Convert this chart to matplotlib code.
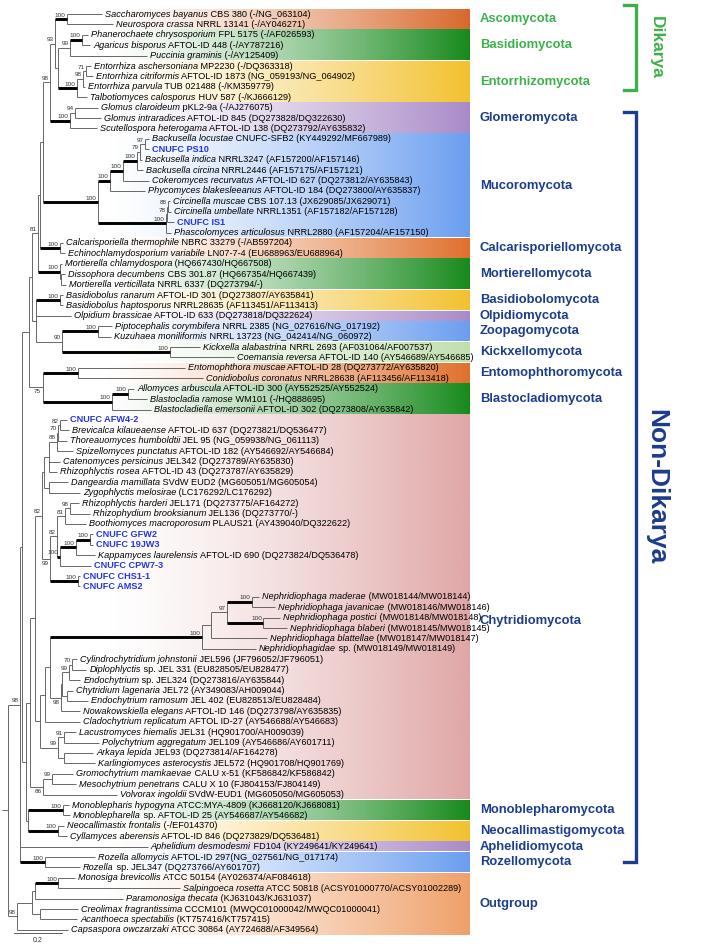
import matplotlib
matplotlib.use("Agg")
import matplotlib.pyplot as plt
import numpy as np
from matplotlib.colors import to_rgb

plt.rcParams['font.family'] = ['Liberation Sans', 'DejaVu Sans']

# ---- tree, branch lengths in substitutions/site; leaves are row numbers,
# internal labels are bootstrap values, "*" = bold branch, "_" = value drawn below
dikarya = ("((0:0.146,1:0.192)100*:0.05,"
           "(((2:0.025,3:0.033)100*:0.05,4:0.321)99:0.05,"
           "(((5:0.021,6:0.029)71:0.013,7:0.008)98:0.025,8:0.042)100*:0.079):0.013)93:0.021")
glomero = "((9:0.096,10:0.108)94:0.021,11:0.113)100*:0.083"
mucoro = ("((((((12:0.017,13:0.017)97:0.021,14:0.008)79:0.013,15:0.025)100*:0.058,16:0.108)100*:0.054,"
          "17:0.146)100*:0.05,(((18:0.008,19:0.013)88:0.004,20:0.029)78:0.004,21:0.021)100*:0.283)100*:0.229")
calcar = "(22:0.013,23:0.021)100*:0.083"
mortier = "(24:0.008,(25:0.017,26:0.021):0.004)100*:0.092"
zoopago = ("((27:0.013,28:0.013)100*:0.1,29:0.146,"
           "((30:0.058,31:0.054)100*:0.15,(32:0.125,33:0.267)100*:0.45)90:0.108):0.017")
blasto = "((34:0.446,35:0.521)100*:0.146,((36:0.025,37:0.079)100*:0.067,38:0.163)100*:0.288)75_:0.058"
upper = "(((((({0},{1})98:0.029,{2}):0.013,{3}):0.008,{4})81:0.025,{5}):0.013,{6}):0.029".format(
    dikarya, glomero, mucoro, calcar, mortier, zoopago, blasto)

spizello = "((((39:0.029,40:0.038)82:0.008,41:0.038)70:0.004,42:0.067)88:0.033,43:0.046,44:0.033):0.021"
rhizophyd = ("((((47:0.038,48:0.083)98:0.021,49:0.088)81:0.033,"
             "(((50:0.013,51:0.013)100*:0.058,52:0.079)100*:0.067,53:0.129)100*:0.013)82:0.029,"
             "(54:0.008,55:0.008)100*:0.117)99_:0.033")
nephrid = ("((((56:0.029,57:0.096)100*:0.104,(58:0.071,59:0.1)100*:0.15)97:0.067,60:0.233):0.038,"
           "61:0.225)100*:0.633")
chytridial = ("((((62:0.021,63:0.058)70:0.013,64:0.046)99:0.029,(65:0.025,66:0.088):0.021):0.004,"
              "67:0.079)98_:0.046")
polychyt = "((69:0.05,70:0.146)91:0.025,(71:0.121,72:0.129):0.025)99:0.075"
mesochyt = "((73:0.088,74:0.1)99:0.038,75:0.308)86_:0.054"
chytrid = ("(((({0},(45:0.079,46:0.129):0.021):0.008,{1})82:0.029,"
           "((({2},{3}):0.021,68:0.146):0.021,{4}):0.021):0.021,{5}):0.017").format(
    spizello, rhizophyd, nephrid, chytridial, polychyt, mesochyt)
mononeo = "((76:0.025,77:0.029)100*:0.146,(78:0.025,79:0.038)100*:0.125):0.008"
fungi = "((" + upper + ",(" + chytrid + "," + mononeo + "):0.017):0.008,80:0.533,(81:0.208,82:0.146)100*:0.104)98:0.05"
outgroup = "((((83:0.071,84:0.508)100*:0.096,85:0.367):0.013,(86:0.158,87:0.154):0.033):0.063,88:0.213)98:0.038"
newick = "(" + fungi + "," + outgroup + ");"

taxon_italic = [
    'Saccharomyces bayanus', 'Neurospora crassa', 'Phanerochaete chrysosporium', 'Agaricus bisporus', 'Puccinia graminis',
    'Entorrhiza aschersoniana', 'Entorrhiza citriformis', 'Entorrhiza parvula', 'Talbotiomyces calosporus',
    'Glomus claroideum', 'Glomus intraradices', 'Scutellospora heterogama',
    'Backusella locustae', '', 'Backusella indica', 'Backusella circina', 'Cokeromyces recurvatus', 'Phycomyces blakesleeanus',
    'Circinella muscae', 'Circinella umbellate', '', 'Phascolomyces articulosus',
    'Calcarisporiella thermophile', 'Echinochlamydosporium variabile',
    'Mortierella chlamydospora', 'Dissophora decumbens', 'Mortierella verticillata',
    'Basidiobolus ranarum', 'Basidiobolus haptosporus', 'Olpidium brassicae',
    'Piptocephalis corymbifera', 'Kuzuhaea moniliformis', 'Kickxella alabastrina', 'Coemansia reversa',
    'Entomophthora muscae', 'Conidiobolus coronatus',
    'Allomyces arbuscula', 'Blastocladia ramose', 'Blastocladiella emersonii',
    '', 'Brevicalca kilaueaense', 'Thoreauomyces humboldtii', 'Spizellomyces punctatus', 'Catenomyces persicinus', 'Rhizophlyctis rosea',
    'Dangeardia mamillata', 'Zygophlyctis melosirae', 'Rhizophlyctis harderi', 'Rhizophydium brooksianum', 'Boothiomyces macroporosum',
    '', '', 'Kappamyces laurelensis', '', '', '',
    'Nephridiophaga maderae', 'Nephridiophaga javanicae', 'Nephridiophaga postici', 'Nephridiophaga blaberi',
    'Nephridiophaga blattellae', 'Nephridiophagidae',
    'Cylindrochytridium johnstonii', 'Diplophlyctis', 'Endochytrium', 'Chytridium lagenaria', 'Endochytrium ramosum',
    'Nowakowskiella elegans', 'Cladochytrium replicatum',
    'Lacustromyces hiemalis', 'Polychytrium aggregatum', 'Arkaya lepida', 'Karlingiomyces asterocystis',
    'Gromochytrium mamkaevae', 'Mesochytrium penetrans', 'Volvorax ingoldii',
    'Monoblepharis hypogyna', 'Monoblepharella', 'Neocallimastix frontalis', 'Cyllamyces aberensis',
    'Aphelidium desmodesmi', 'Rozella allomycis', 'Rozella',
    'Monosiga brevicollis', 'Salpingoeca rosetta', 'Paramonosiga thecata', 'Creolimax fragrantissima',
    'Acanthoeca spectabilis', 'Capsaspora owczarzaki']

taxon_rest = [
    ' CBS 380 (-/NG_063104)', ' NRRL 13141 (-/AY046271)', ' FPL 5175 (-/AF026593)', ' AFTOL-ID 448 (-/AY787216)', ' (-/AY125409)',
    ' MP2230 (-/DQ363318)', ' AFTOL-ID 1873 (NG_059193/NG_064902)', ' TUB 021488 (-/KM359779)', ' HUV 587 (-/KJ666129)',
    ' pKL2-9a (-/AJ276075)', ' AFTOL-ID 845 (DQ273828/DQ322630)', ' AFTOL-ID 138 (DQ273792/AY635832)',
    ' CNUFC-SFB2 (KY449292/MF667989)', 'CNUFC PS10', ' NRRL3247 (AF157200/AF157146)', ' NRRL2446 (AF157175/AF157121)',
    ' AFTOL-ID 627 (DQ273812/AY635843)', ' AFTOL-ID 184 (DQ273800/AY635837)',
    ' CBS 107.13 (JX629085/JX629071)', ' NRRL1351 (AF157182/AF157128)', 'CNUFC IS1', ' NRRL2880 (AF157204/AF157150)',
    ' NBRC 33279 (-/AB597204)', ' LN07-7-4 (EU688963/EU688964)',
    ' (HQ667430/HQ667508)', ' CBS 301.87 (HQ667354/HQ667439)', ' NRRL 6337 (DQ273794/-)',
    ' AFTOL-ID 301 (DQ273807/AY635841)', ' NRRL28635 (AF113451/AF113413)', ' AFTOL-ID 633 (DQ273818/DQ322624)',
    ' NRRL 2385 (NG_027616/NG_017192)', ' NRRL 13723 (NG_042414/NG_060972)', ' NRRL 2693 (AF031064/AF007537)',
    ' AFTOL-ID 140 (AY546689/AY546685)',
    ' AFTOL-ID 28 (DQ273772/AY635820)', ' NRRL28638 (AF113456/AF113418)',
    ' AFTOL-ID 300 (AY552525/AY552524)', ' WM101 (-/HQ888695)', ' AFTOL-ID 302 (DQ273808/AY635842)',
    'CNUFC AFW4-2', ' AFTOL-ID 637 (DQ273821/DQ536477)', ' JEL 95 (NG_059938/NG_061113)', ' AFTOL-ID 182 (AY546692/AY546684)',
    ' JEL342 (DQ273789/AY635830)', ' AFTOL-ID 43 (DQ273787/AY635829)',
    ' SVdW EUD2 (MG605051/MG605054)', ' (LC176292/LC176292)', ' JEL171 (DQ273775/AF164272)', ' JEL136 (DQ273770/-)',
    ' PLAUS21 (AY439040/DQ322622)',
    'CNUFC GFW2', 'CNUFC 19JW3', ' AFTOL-ID 690 (DQ273824/DQ536478)', 'CNUFC CPW7-3', 'CNUFC CHS1-1', 'CNUFC AMS2',
    ' (MW018144/MW018144)', ' (MW018146/MW018146)', ' (MW018148/MW018148)', ' (MW018145/MW018145)',
    ' (MW018147/MW018147)', ' sp. (MW018149/MW018149)',
    ' JEL596 (JF796052/JF796051)', ' sp. JEL 331 (EU828505/EU828477)', ' sp. JEL324 (DQ273816/AY635844)',
    ' JEL72 (AY349083/AH009044)', ' JEL 402 (EU828513/EU828484)', ' AFTOL-ID 146 (DQ273798/AY635835)',
    ' AFTOL ID-27 (AY546688/AY546683)',
    ' JEL31 (HQ901700/AH009039)', ' JEL109 (AY546686/AY601711)', ' JEL93 (DQ273814/AF164278)', ' JEL572 (HQ901708/HQ901769)',
    ' CALU x-51 (KF586842/KF586842)', ' CALU X 10 (FJ804153/FJ804149)', ' SVdW-EUD1 (MG605050/MG605053)',
    ' ATCC:MYA-4809 (KJ668120/KJ668081)', ' sp. AFTOL-ID 25 (AY546687/AY546682)', ' (-/EF014370)',
    ' AFTOL-ID 846 (DQ273829/DQ536481)',
    ' FD104 (KY249641/KY249641)', ' AFTOL-ID 297(NG_027561/NG_017174)', ' sp. JEL347 (DQ273766/AY601707)',
    ' ATCC 50154 (AY026374/AF084618)', ' ATCC 50818 (ACSY01000770/ACSY01002289)', ' (KJ631043/KJ631037)',
    ' CCCM101 (MWQC01000042/MWQC01000041)', ' (KT757416/KT757415)', ' ATCC 30864 (AY724688/AF349564)']

# ---- clades (colour bands) : rows first..last
clade_names = ['Ascomycota', 'Basidiomycota', 'Entorrhizomycota', 'Glomeromycota', 'Mucoromycota',
               'Calcarisporiellomycota', 'Mortierellomycota', 'Basidiobolomycota', 'Olpidiomycota',
               'Zoopagomycota', 'Kickxellomycota', 'Entomophthoromycota', 'Blastocladiomycota',
               'Chytridiomycota', 'Monoblepharomycota', 'Neocallimastigomycota', 'Aphelidiomycota',
               'Rozellomycota', 'Outgroup']
clade_first = [0, 2, 5, 9, 12, 22, 24, 27, 29, 30, 32, 34, 36, 39, 76, 78, 80, 81, 83]
clade_last = [1, 4, 8, 11, 21, 23, 26, 28, 29, 31, 33, 35, 38, 75, 77, 79, 80, 82, 88]
clade_colors = ['#d8682b', '#178a1c', '#f3c12e', '#a98ac8', '#6a9ef0', '#e0702c', '#178a1c', '#f3c12e',
                '#a98ac8', '#6a9ef0', '#bfe0ae', '#e0702c', '#178a1c', '#e0a6a6', '#178a1c', '#f3c12e',
                '#a98ac8', '#6a9ef0', '#f0a068']
dikarya_clades = ['Ascomycota', 'Basidiomycota', 'Entorrhizomycota']

GREEN = '#3db04a'
NAVY = '#1c3c8c'
BLUE = '#2435e6'
PX = 0.2 / 48          # scale bar: 0.2 subst./site = 48 px
ROW = 10.408           # px between rows


def parse(s):
    pos = 0

    def node():
        nonlocal pos
        n = {'children': [], 'label': '', 'length': 0.0}
        if s[pos] == '(':
            pos += 1
            while True:
                n['children'].append(node())
                if s[pos] == ',':
                    pos += 1
                else:
                    break
            pos += 1
        start = pos
        while s[pos] not in ',():;':
            pos += 1
        n['label'] = s[start:pos]
        if s[pos] == ':':
            pos += 1
            start = pos
            while s[pos] not in ',();':
                pos += 1
            n['length'] = float(s[start:pos])
        return n
    return node()


def layout(n, x):
    n['x'] = x + n['length']
    if n['children']:
        for c in n['children']:
            layout(c, n['x'])
        n['y'] = (n['children'][0]['y'] + n['children'][-1]['y']) / 2
    else:
        n['y'] = int(n['label'])


def walk(n):
    yield n
    for c in n['children']:
        yield from walk(c)


def ry(p):
    return (p - 14) / ROW


root = parse(newick)
layout(root, 8 * PX)

fig = plt.figure(figsize=(7.08, 9.44), dpi=100)
ax = fig.add_axes([0, 0, 1, 1])

# colour bands with horizontal gradient
x0, x1 = 100 * PX, 470 * PX
t = np.linspace(0, 1, 256)
label_nudge = {'Chytridiomycota': 1.3}
for name, a, b, col in zip(clade_names, clade_first, clade_last, clade_colors):
    rgba = np.ones((1, 256, 4))
    rgba[0, :, :3] = to_rgb(col)
    rgba[0, :, 3] = t ** 1.4
    ax.imshow(rgba, extent=(x0, x1, b + 0.45, a - 0.45), aspect='auto', interpolation='bilinear', zorder=0)
    tc = GREEN if name in dikarya_clades else NAVY
    ax.text(480 * PX, (a + b) / 2 + label_nudge.get(name, 0), name, fontsize=9.4, fontweight='bold',
            color=tc, va='center', ha='left')

# branches
thin = dict(color='#5c5c5c', lw=0.65, solid_capstyle='butt', zorder=2)
for n in walk(root):
    if n['children']:
        ax.plot([n['x'], n['x']], [n['children'][0]['y'], n['children'][-1]['y']], **thin)
        for c in n['children']:
            if '*' in c['label']:
                ax.plot([n['x'], c['x']], [c['y'], c['y']], color='black', lw=2.1,
                        solid_capstyle='butt', zorder=3)
            else:
                ax.plot([n['x'], c['x']], [c['y'], c['y']], **thin)
        lab = n['label'].replace('*', '')
        if lab:
            if lab.endswith('_'):
                ax.text(n['x'] - 1.5 * PX, n['y'] + 0.18, lab[:-1], fontsize=4.6, color='#333333',
                        ha='right', va='top', zorder=4)
            else:
                ax.text(n['x'] - 1.5 * PX, n['y'] - 0.15, lab, fontsize=4.6, color='#333333',
                        ha='right', va='bottom', zorder=4)
ax.plot([root['x'] - 6 * PX, root['x']], [root['y'], root['y']], **thin)

# tip labels
for n in walk(root):
    if n['children']:
        continue
    i = int(n['label'])
    xt = n['x'] + 3 * PX
    if taxon_italic[i] == '':
        ax.text(xt, i, taxon_rest[i], fontsize=6.6, fontweight='bold', color=BLUE, va='center', ha='left', zorder=5)
    else:
        t1 = ax.text(xt, i, taxon_italic[i], fontsize=6.6, style='italic', va='center', ha='left', zorder=5)
        ax.annotate(taxon_rest[i], xy=(1, 0.5), xycoords=t1, fontsize=6.6, va='center', ha='left', zorder=5)

# brackets
for top, bot, col, lab, fs in [(5, 90, GREEN, 'Dikarya', 12.5), (112, 862, NAVY, 'Non-Dikarya', 19)]:
    ax.plot([624 * PX, 636 * PX, 636 * PX, 624 * PX], [ry(top), ry(top), ry(bot), ry(bot)],
            color=col, lw=2.4, solid_joinstyle='miter')
    ax.text(656 * PX, ry((top + bot) / 2), lab, rotation=-90, fontsize=fs, fontweight='bold', color=col,
            ha='center', va='center')

# scale bar
ax.plot([14 * PX, 14 * PX + 0.2], [ry(933), ry(933)], color='#5c5c5c', lw=0.7)
ax.text(14 * PX + 0.1, ry(937), '0.2', fontsize=5, ha='center', va='top', color='#333333')

ax.set_xlim(0, 708 * PX)
ax.set_ylim(ry(944), ry(0))
ax.axis('off')
fig.savefig('out.png', dpi=100)
